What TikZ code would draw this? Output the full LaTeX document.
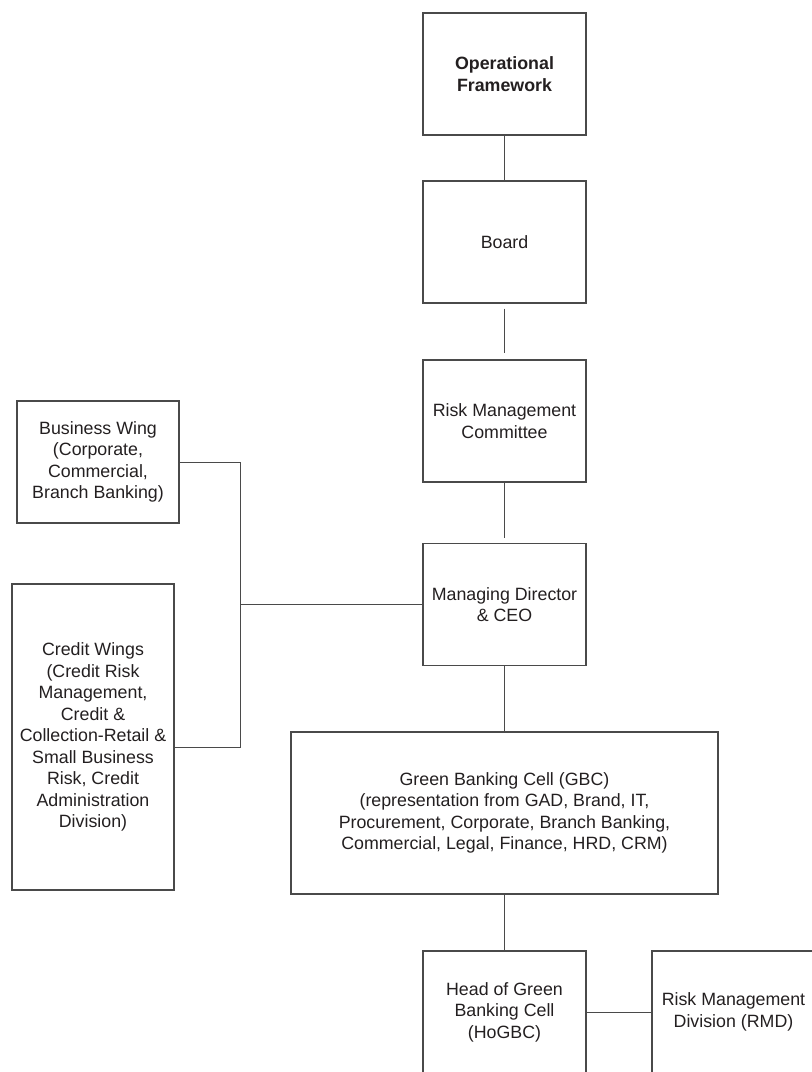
\documentclass[tikz,border=0pt]{standalone}
\usepackage{fontspec}
\setmainfont{Liberation Sans}
\usetikzlibrary{calc}
\definecolor{ink}{HTML}{231F20}
\definecolor{rule}{HTML}{4A4A4A}
\begin{document}
\begin{tikzpicture}[x=1pt,y=-1pt,
  box/.style={draw=rule,line width=1.1pt,rectangle,align=center,
    minimum width=163pt,minimum height=122pt,inner sep=0pt,text=ink,
    font=\fontsize{17.8}{21.5}\selectfont},
  link/.style={draw=rule,line width=1pt}]
\useasboundingbox (0,0) rectangle (812,1072);

% main chain
\node[box] (of)  at (504.5,74)  {\textbf{Operational}\\\textbf{Framework}};
\node[box] (brd) at (504.5,242) {Board};
\node[box] (rmc) at (504.5,421) {Risk Management\\Committee};
\node[box] (md)  at (504.5,604.5) {Managing Director\\\& CEO};
\node[box,minimum width=427pt,minimum height=162pt] (gbc) at (504.5,813)
  {Green Banking Cell (GBC)\\(representation from GAD, Brand, IT,\\Procurement, Corporate, Branch Banking,\\Commercial, Legal, Finance, HRD, CRM)};
\node[box] (ho)  at (504.5,1012) {Head of Green\\Banking Cell\\(HoGBC)};
\node[box] (rmd) at (733.5,1012) {Risk Management\\Division (RMD)};

% side wings
\node[box,minimum width=162pt] (bw) at (98,462)
  {Business Wing\\(Corporate,\\Commercial,\\Branch Banking)};
\node[box,minimum width=162pt,minimum height=306pt] (cw) at (93,737)
  {Credit Wings\\(Credit Risk\\Management,\\Credit \&\\Collection-Retail \&\\Small Business\\Risk, Credit\\Administration\\Division)};

% connectors
\coordinate (j) at (240,604.5);
\draw[link] (of.south) -- (brd.north);
\draw[link,shorten <=5pt,shorten >=6pt] (brd.south) -- (rmc.north);
\draw[link,shorten >=5pt] (rmc.south) -- (md.north);
\draw[link] (md.south) -- (gbc.north);
\draw[link] (gbc.south) -- (ho.north);
\draw[link] (ho.east) -- (rmd.west);
\draw[link] (bw.east) -| (j);
\draw[link] ([yshift=-10pt]cw.east) -| (j);
\draw[link] (j) -- (md.west);
\end{tikzpicture}
\end{document}
